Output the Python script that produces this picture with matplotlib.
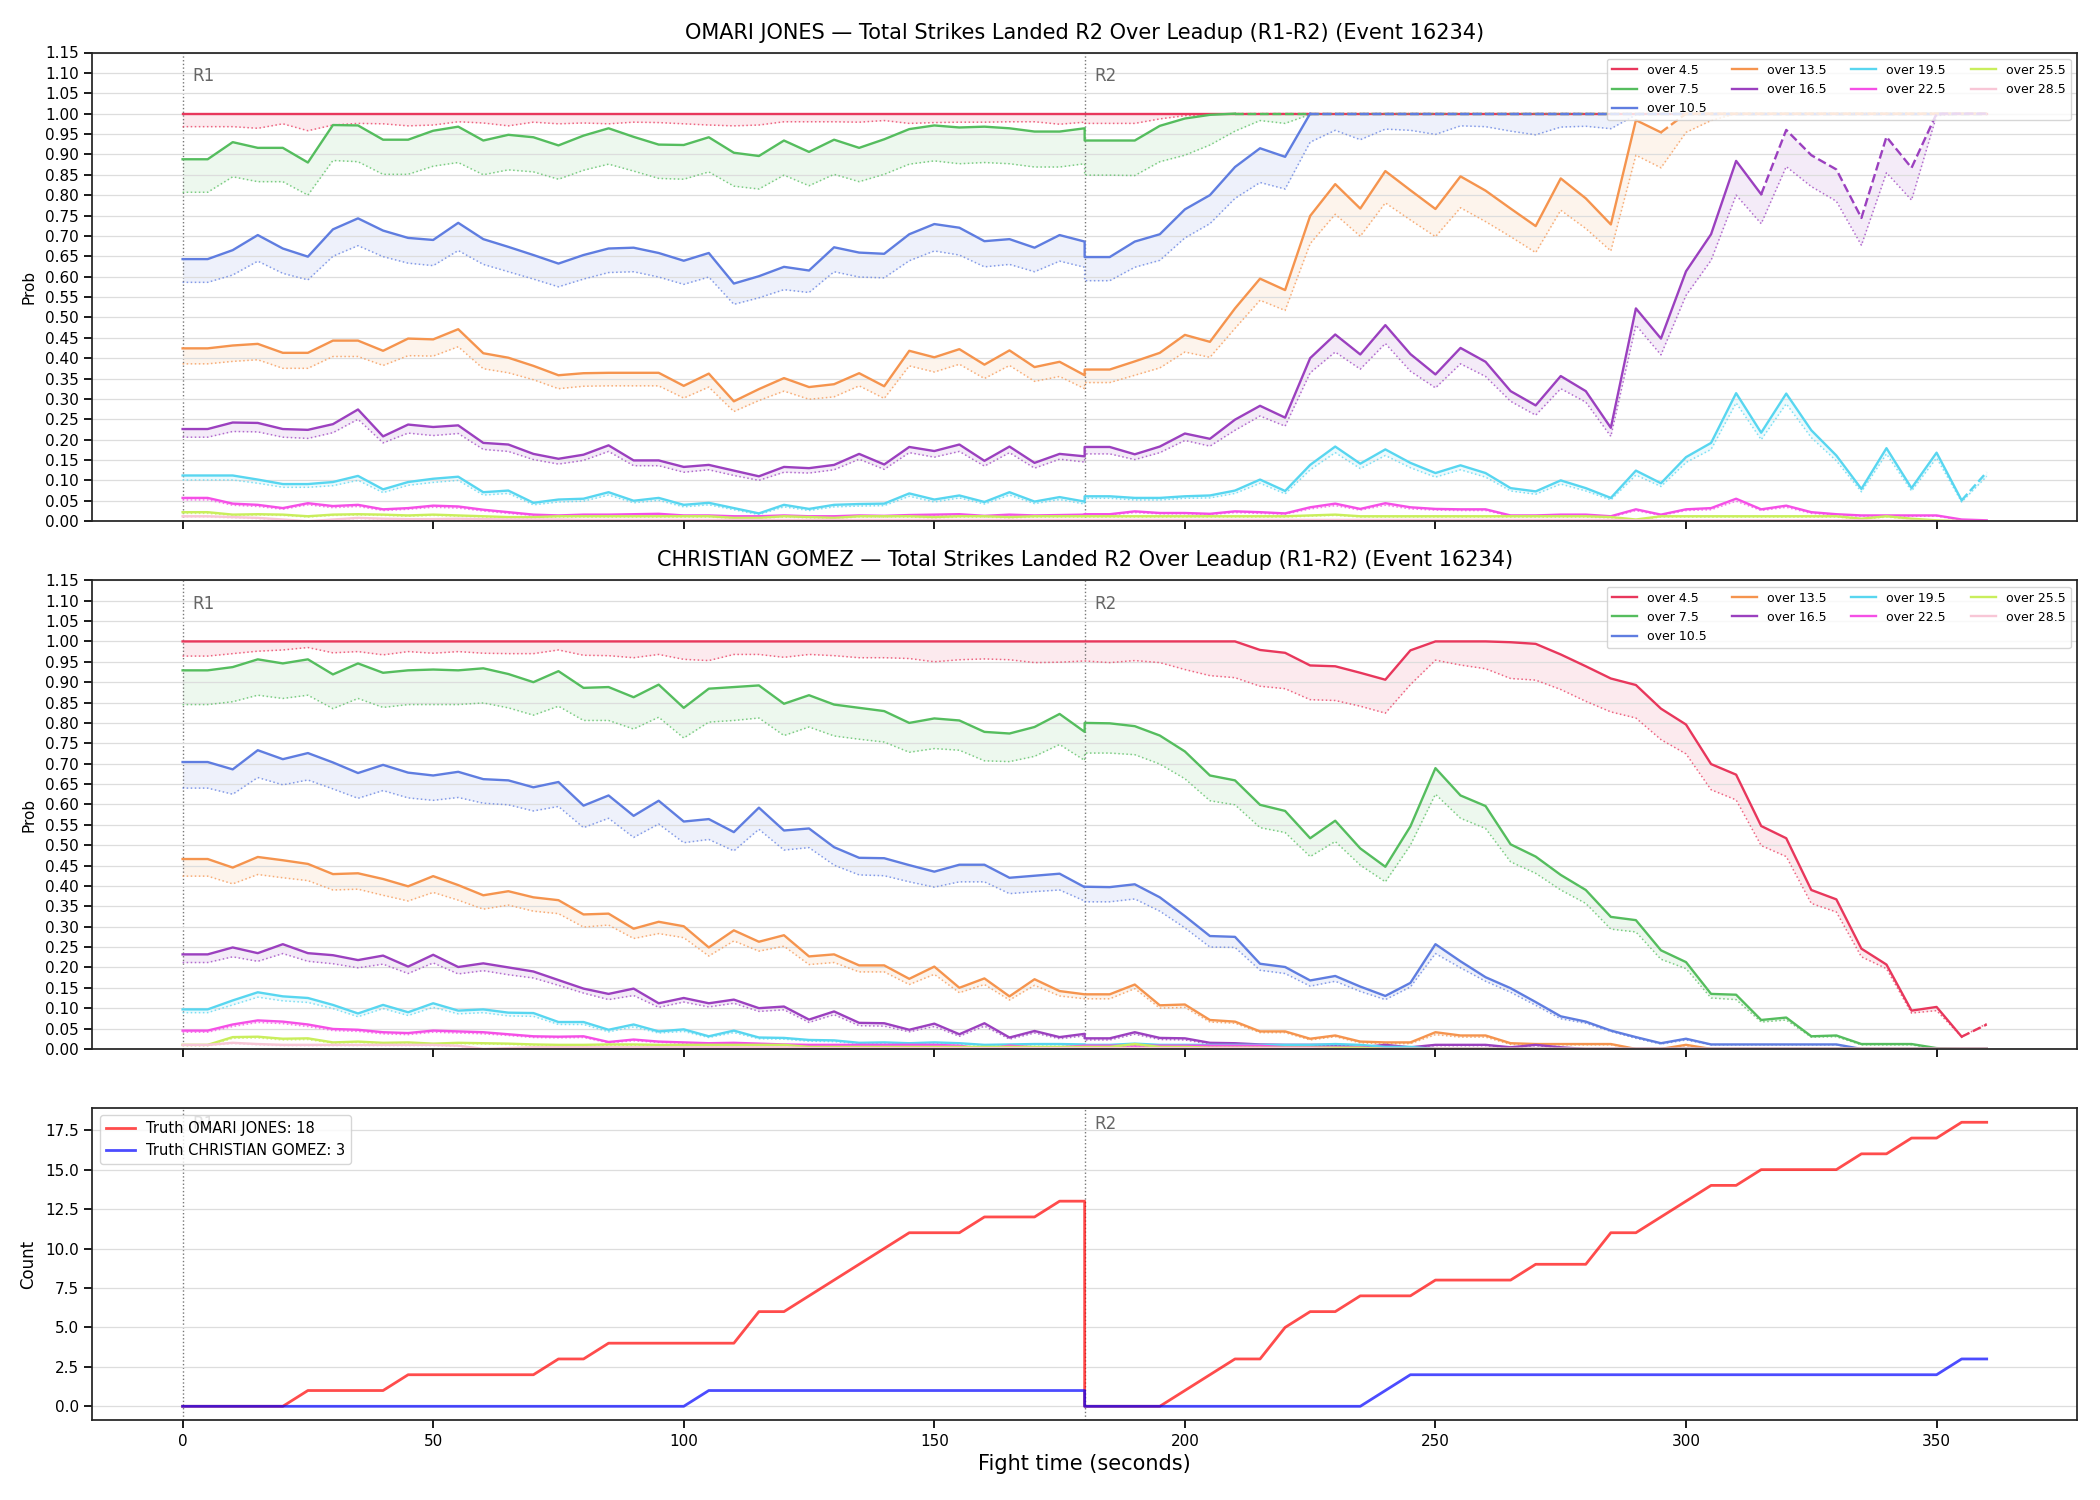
import matplotlib
matplotlib.use("Agg")
import matplotlib.pyplot as plt
import matplotlib.transforms as mtransforms
import numpy as np

# sample times: R1 0..180, R2 180..360 (180 appears twice, end of R1 / start of R2)
times = list(range(0, 185, 5)) + list(range(180, 365, 5))

thresholds = ['over 4.5', 'over 7.5', 'over 10.5', 'over 13.5', 'over 16.5',
              'over 19.5', 'over 22.5', 'over 25.5', 'over 28.5']
colors = ['#e8375c', '#55bd5e', '#5f7de0', '#f5944e', '#9b40bf',
          '#58d6f0', '#f54fe6', '#c9ee5c', '#f8c6d6']

# ---------------- OMARI JONES (top panel) ----------------
omari_45 = [1.0, 1.0, 1.0, 1.0, 1.0, 1.0, 1.0, 1.0, 1.0, 1.0,
            1.0, 1.0, 1.0, 1.0, 1.0, 1.0, 1.0, 1.0, 1.0, 1.0,
            1.0, 1.0, 1.0, 1.0, 1.0, 1.0, 1.0, 1.0, 1.0, 1.0,
            1.0, 1.0, 1.0, 1.0, 1.0, 1.0, 1.0,
            1.0, 1.0, 1.0, 1.0, 1.0, 1.0, 1.0, 1.0, 1.0, 1.0,
            1.0, 1.0, 1.0, 1.0, 1.0, 1.0, 1.0, 1.0, 1.0, 1.0,
            1.0, 1.0, 1.0, 1.0, 1.0, 1.0, 1.0, 1.0, 1.0, 1.0,
            1.0, 1.0, 1.0, 1.0, 1.0, 1.0, 1.0]
omari_45_lo = [0.968, 0.968, 0.968, 0.964, 0.975, 0.958, 0.972, 0.976, 0.975, 0.970,
               0.972, 0.980, 0.977, 0.970, 0.979, 0.975, 0.977, 0.975, 0.979, 0.978,
               0.975, 0.972, 0.970, 0.972, 0.980, 0.980, 0.980, 0.979, 0.983, 0.976,
               0.978, 0.979, 0.979, 0.980, 0.980, 0.974, 0.979,
               0.976, 0.976, 0.976, 0.987, 0.995, 0.998, 1.0, 1.0, 1.0, 1.0,
               1.0, 1.0, 1.0, 1.0, 1.0, 1.0, 1.0, 1.0, 1.0, 1.0,
               1.0, 1.0, 1.0, 1.0, 1.0, 1.0, 1.0, 1.0, 1.0, 1.0,
               1.0, 1.0, 1.0, 1.0, 1.0, 1.0, 1.0]
omari_75 = [0.888, 0.888, 0.930, 0.916, 0.916, 0.880, 0.972, 0.971, 0.936, 0.936,
            0.958, 0.968, 0.934, 0.948, 0.942, 0.922, 0.946, 0.964, 0.943, 0.924,
            0.923, 0.942, 0.904, 0.896, 0.934, 0.906, 0.936, 0.916, 0.937, 0.962,
            0.971, 0.966, 0.968, 0.964, 0.956, 0.956, 0.964,
            0.934, 0.934, 0.934, 0.970, 0.988, 0.997, 1.0, 1.0, 1.0, 1.0,
            1.0, 1.0, 1.0, 1.0, 1.0, 1.0, 1.0, 1.0, 1.0, 1.0,
            1.0, 1.0, 1.0, 1.0, 1.0, 1.0, 1.0, 1.0, 1.0, 1.0,
            1.0, 1.0, 1.0, 1.0, 1.0, 1.0, 1.0]
omari_75_lo = [0.807, 0.807, 0.845, 0.833, 0.833, 0.800, 0.885, 0.882, 0.851, 0.851,
               0.871, 0.880, 0.850, 0.862, 0.857, 0.839, 0.861, 0.876, 0.859, 0.841,
               0.839, 0.857, 0.822, 0.815, 0.849, 0.823, 0.851, 0.833, 0.851, 0.876,
               0.884, 0.877, 0.880, 0.877, 0.869, 0.869, 0.877,
               0.849, 0.849, 0.848, 0.882, 0.898, 0.923, 0.957, 0.983, 0.976, 0.998,
               1.0, 1.0, 1.0, 1.0, 1.0, 1.0, 1.0, 1.0, 1.0, 1.0,
               1.0, 1.0, 1.0, 1.0, 1.0, 1.0, 1.0, 1.0, 1.0, 1.0,
               1.0, 1.0, 1.0, 1.0, 1.0, 1.0, 1.0]
omari_105 = [0.643, 0.643, 0.665, 0.702, 0.669, 0.649, 0.716, 0.743, 0.713, 0.695,
             0.690, 0.732, 0.692, 0.673, 0.653, 0.632, 0.653, 0.669, 0.671, 0.658,
             0.639, 0.658, 0.583, 0.601, 0.624, 0.615, 0.672, 0.659, 0.656, 0.704,
             0.729, 0.720, 0.687, 0.692, 0.671, 0.702, 0.686,
             0.648, 0.648, 0.686, 0.704, 0.765, 0.800, 0.869, 0.915, 0.894, 1.0,
             1.0, 1.0, 1.0, 1.0, 1.0, 1.0, 1.0, 1.0, 1.0, 1.0,
             1.0, 1.0, 1.0, 1.0, 1.0, 1.0, 1.0, 1.0, 1.0, 1.0,
             1.0, 1.0, 1.0, 1.0, 1.0, 1.0, 1.0]
omari_105_lo = [0.586, 0.586, 0.604, 0.638, 0.608, 0.592, 0.650, 0.676, 0.649, 0.633,
                0.627, 0.664, 0.630, 0.612, 0.594, 0.575, 0.594, 0.610, 0.612, 0.599,
                0.581, 0.599, 0.532, 0.548, 0.568, 0.561, 0.612, 0.599, 0.597, 0.639,
                0.663, 0.653, 0.624, 0.630, 0.612, 0.638, 0.623,
                0.590, 0.590, 0.623, 0.640, 0.695, 0.730, 0.792, 0.831, 0.815, 0.930,
                0.959, 0.936, 0.962, 0.959, 0.949, 0.970, 0.968, 0.957, 0.948, 0.967,
                0.969, 0.963, 0.997, 1.0, 1.0, 1.0, 1.0, 1.0, 1.0, 1.0,
                1.0, 1.0, 1.0, 1.0, 1.0, 1.0, 1.0]
omari_135 = [0.424, 0.424, 0.431, 0.435, 0.413, 0.413, 0.443, 0.443, 0.418, 0.448,
             0.446, 0.471, 0.412, 0.401, 0.381, 0.358, 0.363, 0.364, 0.364, 0.364,
             0.332, 0.362, 0.294, 0.324, 0.351, 0.329, 0.336, 0.363, 0.331, 0.418,
             0.402, 0.422, 0.384, 0.419, 0.378, 0.391, 0.358,
             0.372, 0.372, 0.392, 0.413, 0.457, 0.440, 0.522, 0.595, 0.567, 0.749,
             0.827, 0.767, 0.859, 0.812, 0.766, 0.846, 0.811, 0.767, 0.724, 0.841,
             0.792, 0.728, 0.984, 0.954, 1.0, 1.0, 1.0, 1.0, 1.0, 1.0,
             1.0, 1.0, 1.0, 1.0, 1.0, 1.0, 1.0]
omari_135_lo = [0.386, 0.386, 0.392, 0.396, 0.375, 0.375, 0.404, 0.404, 0.382, 0.406,
                0.405, 0.428, 0.374, 0.364, 0.347, 0.325, 0.331, 0.332, 0.332, 0.332,
                0.302, 0.329, 0.269, 0.296, 0.319, 0.299, 0.305, 0.332, 0.301, 0.381,
                0.366, 0.385, 0.350, 0.382, 0.343, 0.355, 0.325,
                0.340, 0.340, 0.358, 0.376, 0.415, 0.402, 0.473, 0.542, 0.517, 0.681,
                0.753, 0.699, 0.781, 0.739, 0.698, 0.769, 0.735, 0.698, 0.659, 0.763,
                0.718, 0.663, 0.898, 0.867, 0.954, 0.983, 1.0, 1.0, 1.0, 1.0,
                1.0, 1.0, 1.0, 1.0, 1.0, 1.0, 1.0]
omari_165 = [0.226, 0.226, 0.242, 0.241, 0.226, 0.224, 0.238, 0.274, 0.208, 0.237,
             0.231, 0.235, 0.192, 0.188, 0.165, 0.153, 0.163, 0.186, 0.149, 0.149,
             0.133, 0.138, 0.124, 0.110, 0.133, 0.130, 0.138, 0.165, 0.139, 0.182,
             0.172, 0.188, 0.148, 0.183, 0.143, 0.165, 0.159,
             0.182, 0.182, 0.164, 0.183, 0.215, 0.202, 0.249, 0.283, 0.254, 0.400,
             0.458, 0.409, 0.481, 0.410, 0.360, 0.425, 0.391, 0.319, 0.284, 0.356,
             0.319, 0.229, 0.522, 0.448, 0.613, 0.704, 0.884, 0.802, 0.960, 0.898,
             0.863, 0.744, 0.943, 0.867, 1.0, 1.0, 1.0]
omari_165_lo = [0.206, 0.206, 0.220, 0.219, 0.206, 0.203, 0.217, 0.250, 0.192, 0.216,
                0.210, 0.215, 0.176, 0.171, 0.151, 0.140, 0.149, 0.171, 0.136, 0.136,
                0.120, 0.126, 0.112, 0.100, 0.120, 0.118, 0.126, 0.152, 0.127, 0.168,
                0.157, 0.171, 0.135, 0.168, 0.130, 0.152, 0.145,
                0.165, 0.165, 0.151, 0.168, 0.198, 0.184, 0.223, 0.258, 0.233, 0.364,
                0.415, 0.373, 0.436, 0.368, 0.327, 0.386, 0.355, 0.294, 0.260, 0.325,
                0.292, 0.208, 0.481, 0.408, 0.554, 0.640, 0.800, 0.730, 0.870, 0.821,
                0.785, 0.677, 0.855, 0.788, 0.995, 1.0, 1.0]
omari_195 = [0.112, 0.112, 0.112, 0.102, 0.091, 0.091, 0.096, 0.111, 0.078, 0.096,
             0.104, 0.109, 0.071, 0.075, 0.045, 0.053, 0.055, 0.071, 0.050, 0.057,
             0.040, 0.045, 0.032, 0.019, 0.040, 0.030, 0.040, 0.042, 0.043, 0.068,
             0.053, 0.063, 0.047, 0.071, 0.048, 0.059, 0.048,
             0.061, 0.061, 0.057, 0.057, 0.061, 0.063, 0.075, 0.102, 0.074, 0.138,
             0.183, 0.141, 0.176, 0.143, 0.118, 0.137, 0.118, 0.081, 0.073, 0.100,
             0.081, 0.057, 0.124, 0.093, 0.157, 0.192, 0.314, 0.217, 0.313, 0.223,
             0.161, 0.079, 0.179, 0.081, 0.168, 0.051, 0.120]
omari_195_lo = [0.101, 0.101, 0.101, 0.093, 0.083, 0.083, 0.087, 0.100, 0.070, 0.088,
                0.095, 0.100, 0.064, 0.068, 0.040, 0.047, 0.049, 0.064, 0.045, 0.051,
                0.035, 0.040, 0.028, 0.016, 0.035, 0.026, 0.035, 0.037, 0.038, 0.061,
                0.047, 0.057, 0.042, 0.064, 0.043, 0.053, 0.042,
                0.056, 0.056, 0.052, 0.052, 0.056, 0.057, 0.068, 0.093, 0.067, 0.126,
                0.168, 0.129, 0.161, 0.131, 0.108, 0.126, 0.108, 0.074, 0.066, 0.091,
                0.074, 0.052, 0.113, 0.085, 0.144, 0.176, 0.290, 0.200, 0.288, 0.205,
                0.148, 0.072, 0.165, 0.074, 0.155, 0.047, 0.110]
omari_225 = [0.057, 0.057, 0.043, 0.040, 0.032, 0.044, 0.037, 0.040, 0.029, 0.032,
             0.038, 0.036, 0.028, 0.022, 0.016, 0.014, 0.016, 0.016, 0.017, 0.018,
             0.014, 0.014, 0.012, 0.012, 0.014, 0.012, 0.012, 0.014, 0.013, 0.015,
             0.016, 0.017, 0.013, 0.016, 0.014, 0.015, 0.016,
             0.017, 0.017, 0.024, 0.020, 0.020, 0.018, 0.024, 0.022, 0.019, 0.034,
             0.043, 0.030, 0.044, 0.034, 0.030, 0.029, 0.029, 0.014, 0.014, 0.016,
             0.016, 0.012, 0.029, 0.016, 0.029, 0.032, 0.055, 0.029, 0.038, 0.022,
             0.017, 0.014, 0.014, 0.014, 0.014, 0.004, 0.002]
omari_225_lo = [0.052, 0.052, 0.039, 0.036, 0.029, 0.040, 0.033, 0.036, 0.026, 0.029,
                0.034, 0.032, 0.025, 0.019, 0.014, 0.012, 0.014, 0.014, 0.015, 0.016,
                0.012, 0.012, 0.010, 0.010, 0.012, 0.010, 0.010, 0.012, 0.011, 0.013,
                0.014, 0.015, 0.011, 0.014, 0.012, 0.013, 0.014,
                0.015, 0.015, 0.021, 0.018, 0.018, 0.016, 0.021, 0.019, 0.017, 0.030,
                0.038, 0.027, 0.039, 0.030, 0.027, 0.026, 0.026, 0.012, 0.012, 0.014,
                0.014, 0.010, 0.026, 0.014, 0.026, 0.028, 0.049, 0.026, 0.034, 0.019,
                0.015, 0.012, 0.012, 0.012, 0.012, 0.003, 0.001]
omari_255 = [0.022, 0.022, 0.016, 0.017, 0.016, 0.012, 0.016, 0.017, 0.016, 0.014,
             0.016, 0.014, 0.012, 0.010, 0.010, 0.012, 0.012, 0.012, 0.012, 0.012,
             0.012, 0.012, 0.008, 0.008, 0.012, 0.010, 0.008, 0.012, 0.012, 0.012,
             0.010, 0.012, 0.012, 0.010, 0.012, 0.012, 0.012,
             0.012, 0.012, 0.012, 0.012, 0.012, 0.012, 0.012, 0.012, 0.012, 0.014,
             0.016, 0.012, 0.012, 0.012, 0.012, 0.012, 0.012, 0.012, 0.012, 0.012,
             0.012, 0.010, 0.004, 0.012, 0.012, 0.012, 0.012, 0.012, 0.012, 0.012,
             0.012, 0.006, 0.012, 0.006, 0.002, 0.000, 0.000]
omari_255_lo = [0.019, 0.019, 0.014, 0.015, 0.014, 0.010, 0.014, 0.015, 0.014, 0.012,
                0.014, 0.012, 0.010, 0.008, 0.008, 0.010, 0.010, 0.010, 0.010, 0.010,
                0.010, 0.010, 0.007, 0.007, 0.010, 0.008, 0.007, 0.010, 0.010, 0.010,
                0.008, 0.010, 0.010, 0.008, 0.010, 0.010, 0.010,
                0.010, 0.010, 0.010, 0.010, 0.010, 0.010, 0.010, 0.010, 0.010, 0.012,
                0.014, 0.010, 0.010, 0.010, 0.010, 0.010, 0.010, 0.010, 0.010, 0.010,
                0.010, 0.008, 0.003, 0.010, 0.010, 0.010, 0.010, 0.010, 0.010, 0.010,
                0.010, 0.005, 0.010, 0.005, 0.001, 0.000, 0.000]
omari_285 = [0.012, 0.012, 0.010, 0.008, 0.004, 0.000, 0.004, 0.008, 0.006, 0.005,
             0.005, 0.006, 0.005, 0.004, 0.004, 0.004, 0.003, 0.003, 0.003, 0.003,
             0.003, 0.003, 0.003, 0.003, 0.003, 0.003, 0.003, 0.003, 0.003, 0.003,
             0.003, 0.003, 0.003, 0.003, 0.003, 0.003, 0.003,
             0.003, 0.003, 0.003, 0.003, 0.003, 0.003, 0.003, 0.003, 0.003, 0.003,
             0.003, 0.003, 0.003, 0.003, 0.003, 0.003, 0.003, 0.003, 0.003, 0.003,
             0.003, 0.003, 0.002, 0.002, 0.002, 0.002, 0.002, 0.002, 0.002, 0.002,
             0.002, 0.002, 0.001, 0.001, 0.000, 0.000, 0.000]
omari_285_lo = [0.010, 0.010, 0.008, 0.006, 0.002, 0.000, 0.002, 0.006, 0.004, 0.003,
                0.003, 0.004, 0.003, 0.002, 0.002, 0.002, 0.001, 0.001, 0.001, 0.001,
                0.001, 0.001, 0.001, 0.001, 0.001, 0.001, 0.001, 0.001, 0.001, 0.001,
                0.001, 0.001, 0.001, 0.001, 0.001, 0.001, 0.001,
                0.001, 0.001, 0.001, 0.001, 0.001, 0.001, 0.001, 0.001, 0.001, 0.001,
                0.001, 0.001, 0.001, 0.001, 0.001, 0.001, 0.001, 0.001, 0.001, 0.001,
                0.001, 0.001, 0.001, 0.001, 0.001, 0.001, 0.001, 0.001, 0.001, 0.001,
                0.001, 0.001, 0.000, 0.000, 0.000, 0.000, 0.000]

# ---------------- CHRISTIAN GOMEZ (middle panel) ----------------
gomez_45 = [1.0, 1.0, 1.0, 1.0, 1.0, 1.0, 1.0, 1.0, 1.0, 1.0,
            1.0, 1.0, 1.0, 1.0, 1.0, 1.0, 1.0, 1.0, 1.0, 1.0,
            1.0, 1.0, 1.0, 1.0, 1.0, 1.0, 1.0, 1.0, 1.0, 1.0,
            1.0, 1.0, 1.0, 1.0, 1.0, 1.0, 1.0,
            1.0, 1.0, 1.0, 1.0, 1.0, 1.0, 1.0, 0.979, 0.972, 0.941,
            0.939, 0.923, 0.906, 0.978, 1.0, 1.0, 1.0, 0.998, 0.994, 0.968,
            0.939, 0.909, 0.893, 0.835, 0.796, 0.699, 0.673, 0.547, 0.517, 0.390,
            0.367, 0.246, 0.207, 0.094, 0.103, 0.030, 0.060]
gomez_45_lo = [0.964, 0.964, 0.970, 0.976, 0.979, 0.985, 0.972, 0.975, 0.967, 0.975,
               0.971, 0.975, 0.971, 0.970, 0.970, 0.979, 0.966, 0.965, 0.960, 0.968,
               0.956, 0.953, 0.968, 0.968, 0.961, 0.968, 0.965, 0.960, 0.960, 0.958,
               0.950, 0.955, 0.957, 0.955, 0.948, 0.949, 0.952,
               0.952, 0.948, 0.953, 0.948, 0.931, 0.916, 0.911, 0.890, 0.884, 0.857,
               0.855, 0.841, 0.824, 0.894, 0.954, 0.942, 0.933, 0.909, 0.905, 0.882,
               0.853, 0.827, 0.812, 0.759, 0.724, 0.636, 0.611, 0.499, 0.472, 0.357,
               0.336, 0.226, 0.197, 0.088, 0.094, 0.030, 0.062]
gomez_75 = [0.929, 0.929, 0.937, 0.956, 0.946, 0.956, 0.919, 0.946, 0.923, 0.929,
            0.931, 0.929, 0.934, 0.920, 0.900, 0.927, 0.886, 0.888, 0.863, 0.894,
            0.837, 0.884, 0.888, 0.892, 0.847, 0.868, 0.845, 0.837, 0.829, 0.800,
            0.811, 0.806, 0.778, 0.774, 0.790, 0.822, 0.778,
            0.800, 0.799, 0.792, 0.769, 0.730, 0.671, 0.659, 0.599, 0.584, 0.517,
            0.560, 0.492, 0.447, 0.546, 0.689, 0.622, 0.596, 0.502, 0.472, 0.427,
            0.390, 0.324, 0.316, 0.242, 0.213, 0.135, 0.133, 0.071, 0.077, 0.031,
            0.033, 0.012, 0.012, 0.012, 0.002, 0.000, 0.000]
gomez_75_lo = [0.845, 0.845, 0.852, 0.868, 0.860, 0.868, 0.835, 0.860, 0.838, 0.845,
               0.845, 0.845, 0.849, 0.837, 0.819, 0.841, 0.806, 0.806, 0.785, 0.814,
               0.763, 0.802, 0.806, 0.812, 0.769, 0.790, 0.768, 0.760, 0.753, 0.728,
               0.737, 0.733, 0.707, 0.705, 0.718, 0.747, 0.708,
               0.726, 0.726, 0.722, 0.699, 0.663, 0.609, 0.599, 0.543, 0.531, 0.472,
               0.509, 0.451, 0.410, 0.500, 0.625, 0.566, 0.541, 0.459, 0.431, 0.390,
               0.357, 0.294, 0.287, 0.220, 0.197, 0.125, 0.121, 0.066, 0.071, 0.029,
               0.030, 0.010, 0.010, 0.010, 0.000, 0.000, 0.000]
gomez_105 = [0.704, 0.704, 0.686, 0.733, 0.711, 0.726, 0.703, 0.677, 0.697, 0.678,
             0.671, 0.680, 0.662, 0.659, 0.642, 0.655, 0.597, 0.622, 0.572, 0.609,
             0.558, 0.564, 0.532, 0.592, 0.536, 0.541, 0.495, 0.469, 0.468, 0.451,
             0.435, 0.452, 0.452, 0.420, 0.425, 0.430, 0.397,
             0.398, 0.397, 0.404, 0.372, 0.326, 0.277, 0.275, 0.209, 0.201, 0.168,
             0.179, 0.153, 0.130, 0.162, 0.257, 0.215, 0.176, 0.149, 0.115, 0.080,
             0.067, 0.045, 0.029, 0.014, 0.025, 0.011, 0.011, 0.011, 0.011, 0.011,
             0.011, 0.000, 0.000, 0.000, 0.000, 0.000, 0.000]
gomez_105_lo = [0.640, 0.640, 0.625, 0.666, 0.648, 0.660, 0.638, 0.615, 0.634, 0.616,
                0.610, 0.617, 0.603, 0.599, 0.584, 0.595, 0.543, 0.566, 0.519, 0.552,
                0.506, 0.514, 0.486, 0.539, 0.488, 0.494, 0.451, 0.427, 0.425, 0.410,
                0.397, 0.410, 0.410, 0.381, 0.386, 0.390, 0.363,
                0.361, 0.361, 0.368, 0.338, 0.297, 0.250, 0.249, 0.193, 0.185, 0.154,
                0.166, 0.141, 0.121, 0.152, 0.234, 0.199, 0.166, 0.139, 0.107, 0.074,
                0.063, 0.043, 0.026, 0.012, 0.022, 0.010, 0.010, 0.010, 0.010, 0.010,
                0.010, 0.000, 0.000, 0.000, 0.000, 0.000, 0.000]
gomez_135 = [0.466, 0.466, 0.445, 0.471, 0.463, 0.454, 0.429, 0.431, 0.417, 0.399,
             0.424, 0.402, 0.377, 0.387, 0.372, 0.365, 0.330, 0.332, 0.295, 0.312,
             0.301, 0.249, 0.291, 0.263, 0.279, 0.227, 0.232, 0.205, 0.205, 0.172,
             0.202, 0.150, 0.173, 0.129, 0.171, 0.142, 0.134,
             0.134, 0.134, 0.158, 0.107, 0.109, 0.071, 0.067, 0.043, 0.043, 0.025,
             0.033, 0.018, 0.016, 0.016, 0.041, 0.033, 0.033, 0.014, 0.012, 0.012,
             0.012, 0.012, 0.000, 0.000, 0.010, 0.000, 0.000, 0.000, 0.000, 0.000,
             0.000, 0.000, 0.000, 0.000, 0.000, 0.000, 0.000]
gomez_135_lo = [0.424, 0.424, 0.405, 0.428, 0.420, 0.413, 0.390, 0.392, 0.377, 0.363,
                0.384, 0.365, 0.343, 0.353, 0.338, 0.332, 0.299, 0.304, 0.271, 0.283,
                0.273, 0.228, 0.265, 0.240, 0.252, 0.207, 0.212, 0.189, 0.189, 0.158,
                0.183, 0.138, 0.158, 0.120, 0.156, 0.130, 0.123,
                0.123, 0.123, 0.148, 0.100, 0.102, 0.066, 0.063, 0.040, 0.040, 0.022,
                0.030, 0.015, 0.013, 0.013, 0.035, 0.029, 0.029, 0.011, 0.010, 0.010,
                0.010, 0.010, 0.000, 0.000, 0.008, 0.000, 0.000, 0.000, 0.000, 0.000,
                0.000, 0.000, 0.000, 0.000, 0.000, 0.000, 0.000]
gomez_165 = [0.232, 0.232, 0.249, 0.235, 0.257, 0.235, 0.230, 0.218, 0.229, 0.202,
             0.231, 0.201, 0.210, 0.200, 0.190, 0.169, 0.148, 0.135, 0.148, 0.112,
             0.125, 0.112, 0.121, 0.100, 0.104, 0.072, 0.092, 0.064, 0.063, 0.047,
             0.062, 0.036, 0.063, 0.028, 0.044, 0.029, 0.037,
             0.026, 0.026, 0.041, 0.027, 0.026, 0.015, 0.014, 0.011, 0.010, 0.010,
             0.010, 0.004, 0.010, 0.004, 0.010, 0.010, 0.010, 0.004, 0.010, 0.004,
             0.000, 0.000, 0.000, 0.000, 0.000, 0.000, 0.000, 0.000, 0.000, 0.000,
             0.000, 0.000, 0.000, 0.000, 0.000, 0.000, 0.000]
gomez_165_lo = [0.212, 0.212, 0.226, 0.215, 0.234, 0.215, 0.209, 0.199, 0.208, 0.185,
                0.211, 0.184, 0.192, 0.182, 0.174, 0.156, 0.137, 0.121, 0.131, 0.102,
                0.115, 0.103, 0.112, 0.092, 0.096, 0.065, 0.084, 0.057, 0.056, 0.042,
                0.055, 0.031, 0.056, 0.024, 0.039, 0.025, 0.032,
                0.022, 0.022, 0.036, 0.023, 0.022, 0.012, 0.011, 0.009, 0.008, 0.008,
                0.008, 0.003, 0.008, 0.003, 0.008, 0.008, 0.008, 0.003, 0.008, 0.003,
                0.000, 0.000, 0.000, 0.000, 0.000, 0.000, 0.000, 0.000, 0.000, 0.000,
                0.000, 0.000, 0.000, 0.000, 0.000, 0.000, 0.000]
gomez_195 = [0.097, 0.097, 0.119, 0.139, 0.129, 0.125, 0.108, 0.087, 0.108, 0.090,
             0.112, 0.094, 0.097, 0.089, 0.088, 0.066, 0.066, 0.047, 0.060, 0.043,
             0.048, 0.031, 0.045, 0.028, 0.027, 0.022, 0.021, 0.015, 0.016, 0.014,
             0.016, 0.014, 0.010, 0.011, 0.012, 0.012, 0.011,
             0.010, 0.010, 0.013, 0.010, 0.010, 0.010, 0.010, 0.010, 0.010, 0.010,
             0.012, 0.010, 0.005, 0.005, 0.000, 0.000, 0.000, 0.000, 0.000, 0.000,
             0.000, 0.000, 0.000, 0.000, 0.000, 0.000, 0.000, 0.000, 0.000, 0.000,
             0.000, 0.000, 0.000, 0.000, 0.000, 0.000, 0.000]
gomez_195_lo = [0.089, 0.089, 0.108, 0.127, 0.118, 0.114, 0.099, 0.079, 0.099, 0.082,
                0.102, 0.086, 0.089, 0.081, 0.080, 0.060, 0.060, 0.042, 0.054, 0.039,
                0.043, 0.028, 0.040, 0.025, 0.024, 0.019, 0.018, 0.013, 0.014, 0.012,
                0.014, 0.012, 0.008, 0.009, 0.010, 0.010, 0.009,
                0.008, 0.008, 0.011, 0.008, 0.008, 0.008, 0.008, 0.008, 0.008, 0.008,
                0.010, 0.008, 0.004, 0.004, 0.000, 0.000, 0.000, 0.000, 0.000, 0.000,
                0.000, 0.000, 0.000, 0.000, 0.000, 0.000, 0.000, 0.000, 0.000, 0.000,
                0.000, 0.000, 0.000, 0.000, 0.000, 0.000, 0.000]
gomez_225 = [0.045, 0.045, 0.060, 0.070, 0.067, 0.060, 0.049, 0.047, 0.041, 0.039,
             0.045, 0.043, 0.041, 0.036, 0.031, 0.030, 0.031, 0.017, 0.023, 0.018,
             0.016, 0.014, 0.015, 0.013, 0.011, 0.010, 0.010, 0.010, 0.010, 0.010,
             0.010, 0.008, 0.000, 0.008, 0.004, 0.004, 0.008,
             0.008, 0.008, 0.008, 0.008, 0.008, 0.008, 0.008, 0.008, 0.004, 0.004,
             0.004, 0.004, 0.000, 0.000, 0.000, 0.000, 0.000, 0.000, 0.000, 0.000,
             0.000, 0.000, 0.000, 0.000, 0.000, 0.000, 0.000, 0.000, 0.000, 0.000,
             0.000, 0.000, 0.000, 0.000, 0.000, 0.000, 0.000]
gomez_225_lo = [0.041, 0.041, 0.055, 0.065, 0.062, 0.055, 0.045, 0.043, 0.037, 0.035,
                0.041, 0.039, 0.037, 0.033, 0.028, 0.027, 0.028, 0.015, 0.020, 0.016,
                0.014, 0.012, 0.013, 0.011, 0.009, 0.008, 0.008, 0.008, 0.008, 0.008,
                0.008, 0.006, 0.000, 0.006, 0.003, 0.003, 0.006,
                0.006, 0.006, 0.006, 0.006, 0.006, 0.006, 0.006, 0.006, 0.003, 0.003,
                0.003, 0.003, 0.000, 0.000, 0.000, 0.000, 0.000, 0.000, 0.000, 0.000,
                0.000, 0.000, 0.000, 0.000, 0.000, 0.000, 0.000, 0.000, 0.000, 0.000,
                0.000, 0.000, 0.000, 0.000, 0.000, 0.000, 0.000]
gomez_255 = [0.010, 0.010, 0.029, 0.030, 0.025, 0.026, 0.016, 0.018, 0.015, 0.016,
             0.013, 0.015, 0.014, 0.013, 0.011, 0.010, 0.010, 0.011, 0.011, 0.010,
             0.010, 0.010, 0.010, 0.010, 0.010, 0.005, 0.005, 0.005, 0.005, 0.005,
             0.005, 0.005, 0.005, 0.005, 0.005, 0.005, 0.005,
             0.005, 0.005, 0.012, 0.005, 0.005, 0.003, 0.003, 0.003, 0.003, 0.003,
             0.003, 0.003, 0.000, 0.000, 0.000, 0.000, 0.000, 0.000, 0.000, 0.000,
             0.000, 0.000, 0.000, 0.000, 0.000, 0.000, 0.000, 0.000, 0.000, 0.000,
             0.000, 0.000, 0.000, 0.000, 0.000, 0.000, 0.000]
gomez_255_lo = [0.008, 0.008, 0.026, 0.027, 0.022, 0.023, 0.014, 0.016, 0.013, 0.014,
                0.011, 0.013, 0.012, 0.011, 0.009, 0.008, 0.008, 0.009, 0.009, 0.008,
                0.008, 0.008, 0.008, 0.008, 0.008, 0.004, 0.004, 0.004, 0.004, 0.004,
                0.004, 0.004, 0.004, 0.004, 0.004, 0.004, 0.004,
                0.004, 0.004, 0.010, 0.004, 0.004, 0.002, 0.002, 0.002, 0.002, 0.002,
                0.002, 0.002, 0.000, 0.000, 0.000, 0.000, 0.000, 0.000, 0.000, 0.000,
                0.000, 0.000, 0.000, 0.000, 0.000, 0.000, 0.000, 0.000, 0.000, 0.000,
                0.000, 0.000, 0.000, 0.000, 0.000, 0.000, 0.000]
gomez_285 = [0.010, 0.010, 0.015, 0.012, 0.010, 0.010, 0.010, 0.010, 0.010, 0.010,
             0.010, 0.008, 0.000, 0.002, 0.004, 0.004, 0.004, 0.004, 0.004, 0.004,
             0.004, 0.004, 0.004, 0.004, 0.004, 0.002, 0.002, 0.002, 0.002, 0.002,
             0.002, 0.002, 0.002, 0.002, 0.002, 0.002, 0.002,
             0.002, 0.002, 0.002, 0.002, 0.002, 0.002, 0.002, 0.002, 0.002, 0.002,
             0.000, 0.000, 0.000, 0.000, 0.000, 0.000, 0.000, 0.000, 0.000, 0.000,
             0.000, 0.000, 0.000, 0.000, 0.000, 0.000, 0.000, 0.000, 0.000, 0.000,
             0.000, 0.000, 0.000, 0.000, 0.000, 0.000, 0.000]
gomez_285_lo = [0.008, 0.008, 0.013, 0.010, 0.008, 0.008, 0.008, 0.008, 0.008, 0.008,
                0.008, 0.006, 0.000, 0.001, 0.003, 0.003, 0.003, 0.003, 0.003, 0.003,
                0.003, 0.003, 0.003, 0.003, 0.003, 0.001, 0.001, 0.001, 0.001, 0.001,
                0.001, 0.001, 0.001, 0.001, 0.001, 0.001, 0.001,
                0.001, 0.001, 0.001, 0.001, 0.001, 0.001, 0.001, 0.001, 0.001, 0.001,
                0.000, 0.000, 0.000, 0.000, 0.000, 0.000, 0.000, 0.000, 0.000, 0.000,
                0.000, 0.000, 0.000, 0.000, 0.000, 0.000, 0.000, 0.000, 0.000, 0.000,
                0.000, 0.000, 0.000, 0.000, 0.000, 0.000, 0.000]

# time from which the main line is drawn dashed (None = solid throughout)
omari_dash_from = [None, 210, 225, 295, 315, 355, None, None, None]
gomez_dash_from = [355, None, None, None, None, None, None, None, None]

# ---------------- truth counts (bottom panel) ----------------
truth_omari = [0, 0, 0, 0, 0, 1, 1, 1, 1, 2,
               2, 2, 2, 2, 2, 3, 3, 4, 4, 4,
               4, 4, 4, 6, 6, 7, 8, 9, 10, 11,
               11, 11, 12, 12, 12, 13, 13,
               0, 0, 0, 0, 1, 2, 3, 3, 5, 6,
               6, 7, 7, 7, 8, 8, 8, 8, 9, 9,
               9, 11, 11, 12, 13, 14, 14, 15, 15, 15,
               15, 16, 16, 17, 17, 18, 18]
truth_gomez = [0, 0, 0, 0, 0, 0, 0, 0, 0, 0,
               0, 0, 0, 0, 0, 0, 0, 0, 0, 0,
               0, 1, 1, 1, 1, 1, 1, 1, 1, 1,
               1, 1, 1, 1, 1, 1, 1,
               0, 0, 0, 0, 0, 0, 0, 0, 0, 0,
               0, 0, 1, 2, 2, 2, 2, 2, 2, 2,
               2, 2, 2, 2, 2, 2, 2, 2, 2, 2,
               2, 2, 2, 2, 2, 3, 3]

omari_hi = [omari_45, omari_75, omari_105, omari_135, omari_165,
            omari_195, omari_225, omari_255, omari_285]
omari_lo = [omari_45_lo, omari_75_lo, omari_105_lo, omari_135_lo, omari_165_lo,
            omari_195_lo, omari_225_lo, omari_255_lo, omari_285_lo]
gomez_hi = [gomez_45, gomez_75, gomez_105, gomez_135, gomez_165,
            gomez_195, gomez_225, gomez_255, gomez_285]
gomez_lo = [gomez_45_lo, gomez_75_lo, gomez_105_lo, gomez_135_lo, gomez_165_lo,
            gomez_195_lo, gomez_225_lo, gomez_255_lo, gomez_285_lo]

for s in omari_hi + omari_lo + gomez_hi + gomez_lo + [truth_omari, truth_gomez]:
    assert len(s) == len(times), len(s)

t = np.array(times)
r2_start = 37  # index of the second 180 sample

plt.rcParams.update({
    'axes.linewidth': 1.25,
    'axes.edgecolor': '#222222',
    'xtick.major.size': 6,
    'ytick.major.size': 6,
    'xtick.major.width': 1.25,
    'ytick.major.width': 1.25,
    'xtick.labelsize': 11,
    'ytick.labelsize': 11,
})


def round_markers(ax):
    trans = mtransforms.blended_transform_factory(ax.transData, ax.transAxes)
    for x, lab in [(0, 'R1'), (180, 'R2')]:
        ax.axvline(x, color='#555555', ls=':', lw=1, alpha=0.8, zorder=1)
        ax.text(x + 2, 0.95, lab, transform=trans, color='#666666',
                fontsize=12, va='center', ha='left')


def prob_panel(ax, his, los, dash_from, title):
    for name, col, hi, lo, dfrom in zip(thresholds, colors, his, los, dash_from):
        hi = np.array(hi)
        lo = np.array(lo)
        ax.fill_between(t, lo, hi, color=col, alpha=0.1, lw=0)
        ax.plot(t, lo, color=col, ls=':', lw=1.1, alpha=0.75)
        if dfrom is None:
            ax.plot(t, hi, color=col, lw=1.7, label=name)
        else:
            i = r2_start + times[r2_start:].index(dfrom)
            ax.plot(t[:i + 1], hi[:i + 1], color=col, lw=1.7, label=name)
            ax.plot(t[i:], hi[i:], color=col, lw=1.7, ls='--')
    ax.set_ylim(0, 1.15)
    ax.set_yticks(np.arange(0, 1.151, 0.05))
    ax.set_ylabel('Prob', fontsize=11, labelpad=6)
    ax.set_title(title, fontsize=15, pad=10)
    ax.grid(axis='y', color='#dddddd', lw=0.9)
    ax.legend(loc='upper right', ncol=4, fontsize=9)
    round_markers(ax)


fig, (ax1, ax2, ax3) = plt.subplots(3, 1, figsize=(21, 15), dpi=100, sharex=True,
                                    gridspec_kw={'height_ratios': [3, 3, 2]})
fig.subplots_adjust(left=0.044, right=0.989, top=0.965, bottom=0.053, hspace=0.142)

prob_panel(ax1, omari_hi, omari_lo, omari_dash_from,
           'OMARI JONES \u2014 Total Strikes Landed R2 Over Leadup (R1-R2) (Event 16234)')
prob_panel(ax2, gomez_hi, gomez_lo, gomez_dash_from,
           'CHRISTIAN GOMEZ \u2014 Total Strikes Landed R2 Over Leadup (R1-R2) (Event 16234)')

ax3.plot(t, truth_omari, color='red', alpha=0.7, lw=2, label='Truth OMARI JONES: 18')
ax3.plot(t, truth_gomez, color='blue', alpha=0.7, lw=2, label='Truth CHRISTIAN GOMEZ: 3')
ax3.set_ylabel('Count', fontsize=12, labelpad=6)
ax3.grid(axis='y', color='#dddddd', lw=0.9)
round_markers(ax3)
ax3.legend(loc='upper left', fontsize=10.5)
ax3.set_xlabel('Fight time (seconds)', fontsize=15)

fig.savefig('out.png', dpi=100)
